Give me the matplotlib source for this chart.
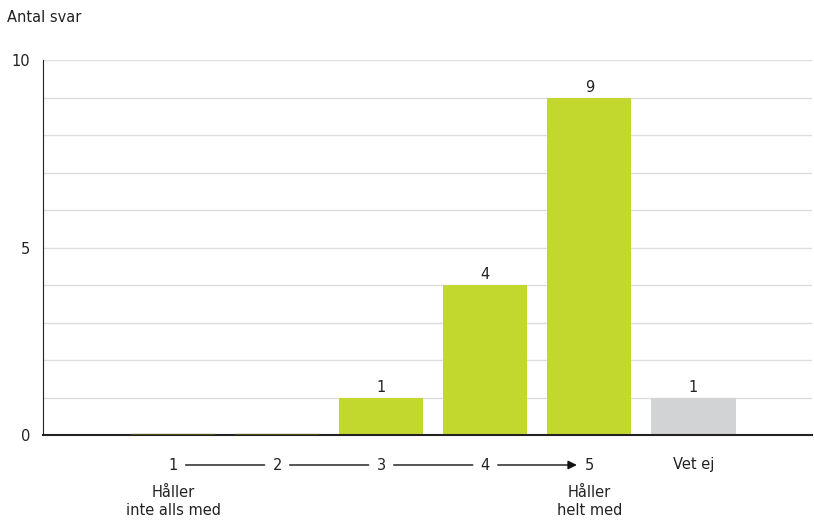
import numpy as np
import matplotlib.pyplot as plt

categories = ["1", "2", "3", "4", "5", "Vet ej"]
values = [0, 0, 1, 4, 9, 1]
colors = ["#c3d82f"] * 5 + ["#d2d3d5"]

plt.rcParams['font.family'] = ['DejaVu Sans']

fig = plt.figure(figsize=(8.14, 5.23), dpi=100)
ax = fig.add_axes([43/814, 88/523, 769/814, 375/523])

x = np.arange(len(categories))
bars = ax.bar(x, values, width=0.81, color=colors, zorder=2)
# zero bars are shown as a thin olive line on the baseline
for i, v in enumerate(values):
    if v == 0:
        ax.plot([i - 0.405, i + 0.405], [0, 0], color="#4a4a12", lw=1.6, zorder=5,
                solid_capstyle="butt")
    else:
        ax.text(i, v + 0.08, str(v), ha="center", va="bottom", fontsize=10.5, color="#222222")

ax.set_xlim(-1.25, 6.14)
ax.set_ylim(0, 10)
ax.set_yticks([0, 5, 10])
ax.set_yticks(np.arange(0, 11, 1), minor=True)
ax.yaxis.grid(True, which="both", color="#dddddd", lw=1, zorder=0)
ax.tick_params(axis="y", which="both", length=0, labelsize=10.5, pad=9, labelcolor="#222222")
ax.set_xticks([])
for s in ["top", "right"]:
    ax.spines[s].set_visible(False)
ax.spines["left"].set_color("#222222")
ax.spines["bottom"].set_color("#222222")
ax.spines["bottom"].set_linewidth(1.5)
ax.spines["bottom"].set_zorder(4)

# scale labels with connecting lines
ylab = -0.08
for i, c in enumerate(categories):
    ax.text(i, ylab, c, transform=ax.get_xaxis_transform(), ha="center", va="center",
            fontsize=10.5, color="#222222")
for i in range(4):
    style = "-|>" if i == 3 else "-"
    ax.annotate("", xy=(i + 1 - 0.12, ylab), xytext=(i + 0.12, ylab),
                xycoords=("data", "axes fraction"), textcoords=("data", "axes fraction"),
                arrowprops=dict(arrowstyle=style, color="#111111", lw=1, shrinkA=0, shrinkB=0,
                                mutation_scale=13))
ax.text(0, -0.177, "Håller\ninte alls med", transform=ax.get_xaxis_transform(),
        ha="center", va="center", fontsize=10.5, color="#222222", linespacing=1.25)
ax.text(4, -0.177, "Håller\nhelt med", transform=ax.get_xaxis_transform(),
        ha="center", va="center", fontsize=10.5, color="#222222", linespacing=1.25)

fig.text(7/814, 1 - 18/523, "Antal svar", ha="left", va="center", fontsize=10.5, color="#222222")

plt.savefig("out.png", dpi=100)
